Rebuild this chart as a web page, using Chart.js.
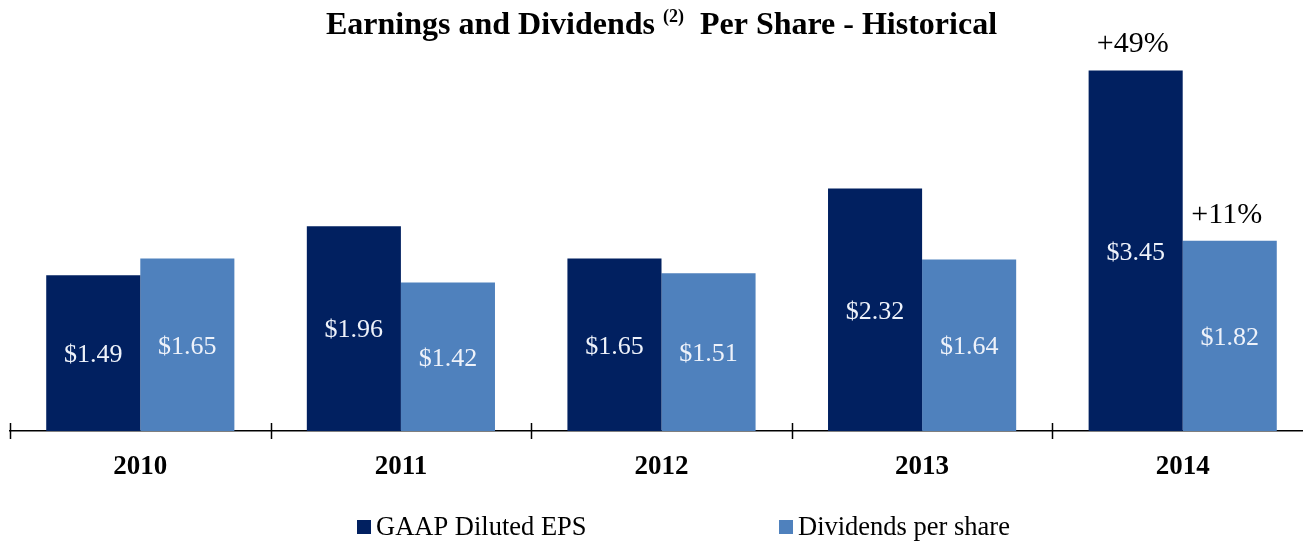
<!DOCTYPE html>
<html>
<head>
<meta charset="utf-8">
<script src="https://cdn.jsdelivr.net/npm/chart.js@4"></script>
<style>
  html, body { margin: 0; padding: 0; background: #fff; overflow: hidden; }
  #wrap { width: 1313px; height: 543px; position: relative; }
</style>
</head>
<body>
<div id="wrap"><canvas id="chart"></canvas></div>
<script>
// Data
const years = ['2010', '2011', '2012', '2013', '2014'];
const epsValues = [1.49, 1.96, 1.65, 2.32, 3.45];
const dividendValues = [1.65, 1.42, 1.51, 1.64, 1.82];
const epsGrowth = ['', '', '', '', '+49%'];
const dividendGrowth = ['', '', '', '', '+11%'];

const NAVY = '#012060';
const BLUE = '#4F81BD';
const SERIF = '"Liberation Serif", "Times New Roman", serif';

// Titre avec exposant (2)
const titlePlugin = {
  id: 'titlePlugin',
  afterDraw(chart) {
    const ctx = chart.ctx;
    const a = chart.chartArea;
    const big = 'bold 32px ' + SERIF;
    const small = 'bold 18px ' + SERIF;
    const p1 = 'Earnings and Dividends ';
    const p2 = '(2)';
    const p3 = '  Per Share - Historical';
    ctx.save();
    ctx.fillStyle = '#000';
    ctx.textBaseline = 'alphabetic';
    ctx.font = big;
    const w1 = ctx.measureText(p1).width;
    const w3 = ctx.measureText(p3).width;
    ctx.font = small;
    const w2 = ctx.measureText(p2).width;
    let x = (a.left + a.right) / 2 - (w1 + w2 + w3) / 2;
    const y = 34;
    ctx.textAlign = 'left';
    ctx.font = big;
    ctx.fillText(p1, x, y);
    x += w1;
    ctx.font = small;
    ctx.fillText(p2, x, y - 12);
    x += w2;
    ctx.font = big;
    ctx.fillText(p3, x, y);
    ctx.restore();
  }
};

// Valeurs dans les barres + croissance au-dessus
const labelPlugin = {
  id: 'labelPlugin',
  afterDatasetsDraw(chart) {
    const ctx = chart.ctx;
    const growth = [epsGrowth, dividendGrowth];
    ctx.save();
    ctx.textAlign = 'center';
    ctx.textBaseline = 'middle';
    chart.data.datasets.forEach((ds, di) => {
      chart.getDatasetMeta(di).data.forEach((bar, i) => {
        ctx.font = '26px ' + SERIF;
        ctx.fillStyle = '#EEF2FA';
        ctx.fillText('$' + ds.data[i].toFixed(2), bar.x, (bar.y + bar.base) / 2 + 2);
        if (growth[di][i]) {
          ctx.font = '30px ' + SERIF;
          ctx.fillStyle = '#000';
          ctx.fillText(growth[di][i], bar.x - 3, bar.y - 26);
        }
      });
    });
    ctx.restore();
  }
};

// Petits traits sur l'axe entre les catégories
const tickPlugin = {
  id: 'tickPlugin',
  afterDraw(chart) {
    const ctx = chart.ctx;
    const xs = chart.scales.x;
    const y = chart.chartArea.bottom;
    const half = (xs.getPixelForValue(1) - xs.getPixelForValue(0)) / 2;
    ctx.save();
    ctx.strokeStyle = '#000';
    ctx.lineWidth = 1.5;
    years.forEach((_, i) => {
      const x = Math.round(xs.getPixelForValue(i) - half) + 0.5;
      ctx.beginPath();
      ctx.moveTo(x, y - 8);
      ctx.lineTo(x, y + 8);
      ctx.stroke();
    });
    ctx.restore();
  }
};

// Légende en bas
const legendPlugin = {
  id: 'legendPlugin',
  afterDraw(chart) {
    const ctx = chart.ctx;
    const items = [
      { x: 357, label: chart.data.datasets[0].label, color: chart.data.datasets[0].backgroundColor },
      { x: 779, label: chart.data.datasets[1].label, color: chart.data.datasets[1].backgroundColor }
    ];
    const y = 527;
    ctx.save();
    ctx.font = '26.5px ' + SERIF;
    ctx.textBaseline = 'middle';
    ctx.textAlign = 'left';
    items.forEach(it => {
      ctx.fillStyle = it.color;
      ctx.fillRect(it.x, y - 7, 14, 14);
      ctx.fillStyle = '#000';
      ctx.fillText(it.label, it.x + 19, y + 1);
    });
    ctx.restore();
  }
};

new Chart(document.getElementById('chart'), {
  type: 'bar',
  data: {
    labels: years,
    datasets: [
      {
        label: 'GAAP Diluted EPS',
        data: epsValues,
        backgroundColor: NAVY,
        categoryPercentage: 0.722,
        barPercentage: 1
      },
      {
        label: 'Dividends per share',
        data: dividendValues,
        backgroundColor: BLUE,
        categoryPercentage: 0.722,
        barPercentage: 1
      }
    ]
  },
  options: {
    responsive: true,
    maintainAspectRatio: false,
    animation: false,
    layout: { padding: { left: 10, right: 0, top: 13, bottom: 0 } },
    plugins: {
      legend: { display: false },
      title: { display: false },
      tooltip: { enabled: false }
    },
    scales: {
      x: {
        grid: { display: false, drawTicks: false },
        border: { display: true, color: '#000', width: 1.5 },
        ticks: {
          color: '#000',
          font: { family: SERIF, size: 27, weight: 'bold' },
          padding: 20
        },
        afterFit: scale => { scale.height = 112; }
      },
      y: {
        display: false,
        min: 0,
        max: 4
      }
    }
  },
  plugins: [titlePlugin, labelPlugin, tickPlugin, legendPlugin]
});
</script>
</body>
</html>
